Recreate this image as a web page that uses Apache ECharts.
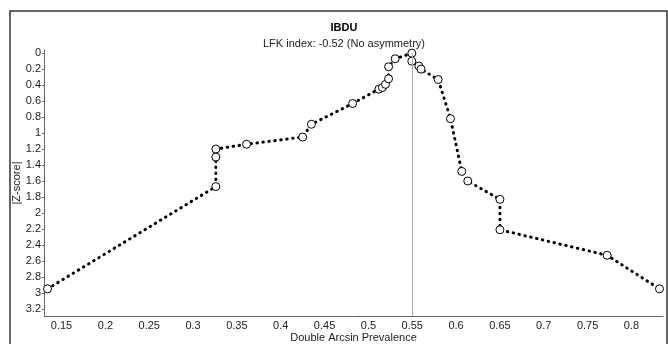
<!DOCTYPE html>
<html>
<head>
<meta charset="utf-8">
<script src="https://cdn.jsdelivr.net/npm/echarts@6/dist/echarts.min.js"></script>
<style>
  html, body { margin: 0; padding: 0; background: #fff; }
  #doiPlot { width: 668px; height: 344px; }
</style>
</head>
<body>
<div id="doiPlot"></div>
<script>
// Doi plot values
const prevalence = [0.134, 0.326, 0.326, 0.326, 0.361, 0.425, 0.435, 0.482, 0.512, 0.516,
  0.5195, 0.523, 0.523, 0.5305, 0.5495, 0.5495, 0.5575, 0.560, 0.5796, 0.5936,
  0.6065, 0.6133, 0.650, 0.650, 0.7723, 0.832];
const zScore = [2.95, 1.67, 1.30, 1.20, 1.14, 1.05, 0.89, 0.63, 0.45, 0.43,
  0.39, 0.32, 0.17, 0.07, 0.0, 0.10, 0.16, 0.20, 0.33, 0.82,
  1.48, 1.60, 1.83, 2.21, 2.53, 2.95];
const xRange = [0.13, 0.836];
const zRange = [-0.04, 3.29];
const centreLine = 0.55;

const font = 'Liberation Sans, Arial, sans-serif';
const chart = echarts.init(document.getElementById('doiPlot'));

chart.setOption({
  animation: false,
  textStyle: { fontFamily: font },
  title: {
    text: 'IBDU',
    subtext: 'LFK index: -0.52 (No asymmetry)',
    left: 339,
    top: 17,
    textAlign: 'center',
    itemGap: 5,
    textStyle: { fontSize: 11, fontWeight: 'bold', color: '#000', fontFamily: font },
    subtextStyle: { fontSize: 11, color: '#222', fontFamily: font }
  },
  graphic: [{
    type: 'rect',
    shape: { x: 10, y: 11, width: 657, height: 360 },
    style: { fill: 'none', stroke: '#333', lineWidth: 1.5 },
    silent: true
  }],
  grid: { left: 44, right: 5, top: 50, bottom: 28, outerBoundsMode: 'none' },
  xAxis: {
    type: 'value',
    min: xRange[0],
    max: xRange[1],
    splitNumber: 14,
    name: 'Double Arcsin Prevalence',
    nameLocation: 'middle',
    nameGap: 16,
    nameMoveOverlap: false,
    nameTextStyle: { fontSize: 11, color: '#222' },
    axisLine: { onZero: false, lineStyle: { color: '#666', width: 1 } },
    axisTick: { show: false },
    axisLabel: { showMinLabel: false, showMaxLabel: false, fontSize: 11, color: '#222', margin: 4 },
    splitLine: { show: false }
  },
  yAxis: {
    type: 'value',
    inverse: true,
    min: zRange[0],
    max: zRange[1],
    splitNumber: 16,
    name: '|Z-score|',
    nameLocation: 'middle',
    nameGap: 22,
    nameMoveOverlap: false,
    nameRotate: 90,
    nameTextStyle: { fontSize: 11, color: '#222' },
    axisLine: { show: true, onZero: false, lineStyle: { color: '#666', width: 1 } },
    axisTick: { show: true, length: 2, lineStyle: { color: '#666' } },
    axisLabel: { showMinLabel: false, showMaxLabel: false, fontSize: 11, color: '#222', margin: 3 },
    splitLine: { show: false }
  },
  series: [{
    type: 'line',
    data: prevalence.map((x, i) => [x, zScore[i]]),
    symbol: 'circle',
    symbolSize: 8,
    showAllSymbol: true,
    itemStyle: { color: '#fff', borderColor: '#000', borderWidth: 1 },
    lineStyle: { color: '#000', width: 3, type: [0.5, 5.5], cap: 'round' },
    z: 3,
    markLine: {
      silent: true,
      symbol: 'none',
      label: { show: false },
      lineStyle: { color: '#aaa', width: 1, type: 'solid' },
      data: [[{ coord: [centreLine, 0] }, { coord: [centreLine, zRange[1]] }]]
    }
  }]
});
</script>
</body>
</html>
